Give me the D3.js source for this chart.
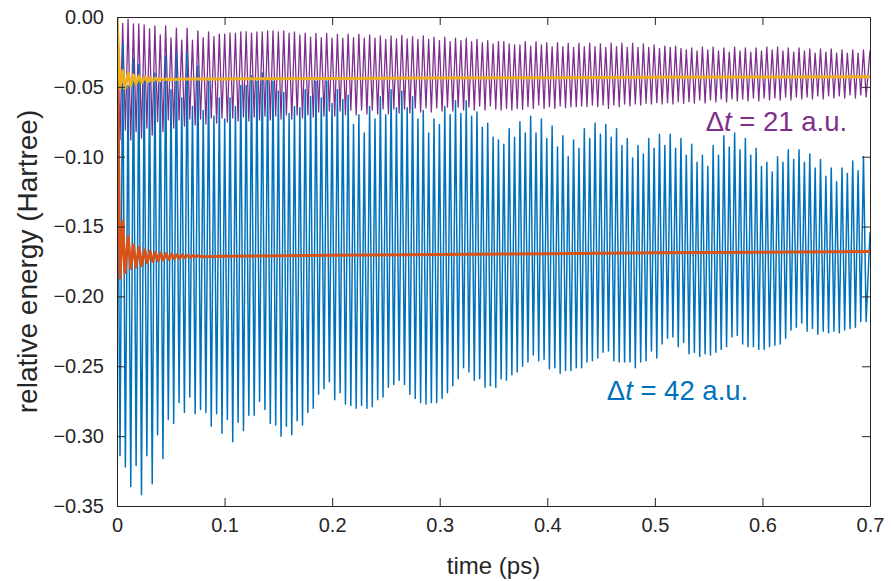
<!DOCTYPE html>
<html>
<head>
<meta charset="utf-8">
<script src="https://cdn.jsdelivr.net/npm/d3@7"></script>
<style>
html,body{margin:0;padding:0;background:#fff;}
svg{display:block;}
text{font-family:"Liberation Sans",Arial,Helvetica,sans-serif;}
</style>
</head>
<body>
<svg id="chart" width="891" height="581"></svg>
<script>
// ---------------- DATA ----------------
const xTicks = [0, 0.1, 0.2, 0.3, 0.4, 0.5, 0.6, 0.7];
const yTicks = [0, -0.05, -0.10, -0.15, -0.20, -0.25, -0.30, -0.35];
const xLabel = "time (ps)";
const yLabel = "relative energy (Hartree)";

// oscillation sampling grid (ps): first minimum and period
const cycleStart = 0.0028;
const cyclePeriod = 0.00499;

// Δt = 42 a.u. (blue) : minima and maxima per cycle
const blueTroughs = [
-0.314,-0.322,-0.336,-0.321,-0.342,-0.314,-0.334,-0.299,-0.316,-0.288,
-0.291,-0.276,-0.283,-0.272,-0.284,-0.281,-0.283,-0.293,-0.284,-0.298,
-0.288,-0.304,-0.290,-0.296,-0.285,-0.285,-0.275,-0.281,-0.291,-0.292,
-0.300,-0.293,-0.299,-0.289,-0.292,-0.283,
-0.280,-0.270,-0.266,-0.261,-0.274,-0.269,-0.277,-0.278,-0.280,-0.278,
-0.280,-0.279,-0.274,-0.272,-0.265,-0.263,-0.260,-0.263,-0.270,-0.273,
-0.276,-0.277,-0.276,-0.276,-0.273,-0.269,-0.264,-0.259,-0.251,-0.254,
-0.260,-0.259,-0.265,-0.264,-0.265,
-0.259,-0.260,-0.256,-0.254,-0.250,-0.247,-0.242,-0.246,-0.245,-0.252,
-0.251,-0.255,-0.253,-0.253,-0.251,-0.251,-0.247,-0.246,-0.244,-0.240,
-0.239,-0.246,-0.247,-0.247,-0.247,-0.251,-0.247,-0.246,-0.239,-0.244,
-0.234,-0.230,-0.229,-0.236,-0.233,-0.241,
-0.240,-0.243,-0.241,-0.242,-0.240,-0.238,-0.236,-0.229,-0.228,-0.234,
-0.236,-0.236,-0.238,-0.238,-0.236,-0.235,-0.234,-0.230,-0.224,-0.222,
-0.219,-0.225,-0.223,-0.227,-0.225,-0.226,-0.225,-0.226,-0.224,-0.223,
-0.222,-0.218,-0.218
];
const blueTops = [
-0.019,-0.049,-0.030,-0.034,-0.042,-0.047,-0.040,-0.047,-0.028,-0.052,
-0.026,-0.058,-0.026,-0.064,-0.035,-0.067,-0.046,-0.071,-0.058,-0.073,
-0.058,-0.064,-0.049,-0.049,-0.042,-0.046,-0.040,-0.045,-0.046,-0.053,
-0.054,-0.069,-0.064,-0.065,-0.052,
-0.057,-0.046,-0.058,-0.046,-0.062,-0.052,-0.059,-0.056,-0.077,-0.070,
-0.083,-0.064,-0.073,-0.057,-0.070,-0.052,-0.065,-0.053,-0.065,-0.057,
-0.073,-0.067,-0.083,-0.073,-0.077,-0.064,-0.070,-0.060,-0.069,-0.060,
-0.071,-0.068,-0.079,-0.076,-0.086,
-0.088,-0.091,-0.080,-0.086,-0.075,-0.083,-0.071,-0.083,-0.073,-0.087,
-0.078,-0.093,-0.085,-0.100,-0.088,-0.094,-0.080,-0.087,-0.076,-0.084,
-0.077,-0.086,-0.080,-0.092,-0.087,-0.101,-0.092,-0.098,-0.087,-0.094,
-0.084,-0.092,-0.084,-0.094,-0.087,-0.099,
-0.091,-0.104,-0.099,-0.107,-0.092,-0.099,-0.085,-0.093,-0.083,-0.095,
-0.087,-0.099,-0.094,-0.107,-0.104,-0.111,-0.100,-0.104,-0.095,-0.102,
-0.095,-0.104,-0.098,-0.108,-0.102,-0.114,-0.108,-0.118,-0.108,-0.112,
-0.103,-0.110,-0.100
];
const blueFinal = [0.7, -0.154];

// Δt = 21 a.u. (purple) : minima and maxima per cycle
const purpleTroughs = [
-0.0880,-0.0809,-0.0880,-0.0821,-0.0866,-0.0795,-0.0845,-0.0749,-0.0821,-0.0737,-0.0795,-0.0737,
-0.0780,-0.0730,-0.0773,-0.0730,-0.0766,-0.0723,-0.0759,-0.0723,-0.0752,-0.0723,-0.0744,-0.0716,
-0.0744,-0.0716,-0.0737,-0.0709,-0.0737,-0.0709,-0.0730,-0.0701,-0.0730,-0.0701,-0.0723,-0.0701,
-0.0716,-0.0680,-0.0709,-0.0673,-0.0709,-0.0673,-0.0701,-0.0666,-0.0701,-0.0666,-0.0694,-0.0666,
-0.0694,-0.0659,-0.0694,-0.0659,-0.0687,-0.0659,-0.0687,-0.0651,-0.0680,-0.0651,-0.0680,-0.0651,
-0.0673,-0.0644,-0.0673,-0.0644,-0.0666,-0.0644,-0.0666,-0.0637,-0.0666,-0.0637,-0.0659,
-0.0666,-0.0654,-0.0666,-0.0654,-0.0661,-0.0642,-0.0654,-0.0630,-0.0654,-0.0642,-0.0654,-0.0637,
-0.0649,-0.0642,-0.0642,-0.0637,-0.0642,-0.0630,-0.0642,-0.0630,-0.0654,-0.0630,-0.0642,-0.0623,
-0.0637,-0.0623,-0.0630,-0.0618,-0.0623,-0.0613,-0.0623,-0.0613,-0.0623,-0.0606,-0.0618,-0.0606,
-0.0616,-0.0594,-0.0616,-0.0594,-0.0608,-0.0587,-0.0608,-0.0587,-0.0601,-0.0587,-0.0601,-0.0580,
-0.0601,-0.0580,-0.0594,-0.0580,-0.0594,-0.0573,-0.0594,-0.0573,-0.0587,-0.0573,-0.0587,-0.0565,
-0.0587,-0.0565,-0.0580,-0.0565,-0.0580,-0.0558,-0.0580,-0.0558,-0.0573
];
const purpleTops = [
-0.0045,-0.0016,-0.0050,-0.0050,-0.0057,-0.0086,-0.0064,-0.0129,-0.0064,-0.0150,
-0.0079,-0.0165,-0.0079,-0.0165,-0.0100,-0.0148,-0.0107,-0.0141,-0.0122,-0.0122,
-0.0115,-0.0115,-0.0107,-0.0105,
-0.0115,-0.0107,-0.0107,-0.0100,-0.0100,-0.0107,-0.0100,-0.0115,-0.0107,-0.0129,-0.0115,
-0.0145,-0.0117,-0.0148,-0.0117,-0.0152,-0.0124,-0.0152,-0.0122,-0.0148,-0.0122,
-0.0152,-0.0129,-0.0152,-0.0136,-0.0160,-0.0136,-0.0157,-0.0131,-0.0157,-0.0141,
-0.0160,-0.0136,-0.0160,-0.0145,-0.0170,-0.0145,-0.0177,-0.0152,-0.0170,-0.0152,
-0.0177,-0.0160,-0.0184,-0.0170,-0.0193,
-0.0177,-0.0177,-0.0193,-0.0200,-0.0200,-0.0177,-0.0208,-0.0177,-0.0200,-0.0184,
-0.0213,-0.0184,-0.0213,-0.0188,-0.0217,-0.0188,-0.0213,-0.0188,-0.0213,-0.0193,
-0.0217,-0.0188,-0.0213,-0.0188,-0.0217,-0.0188,-0.0217,-0.0193,-0.0217,-0.0200,
-0.0224,-0.0208,-0.0217,-0.0208,-0.0224,-0.0236,
-0.0222,-0.0243,-0.0215,-0.0236,-0.0215,-0.0243,-0.0222,-0.0251,-0.0215,-0.0243,
-0.0222,-0.0251,-0.0222,-0.0243,-0.0215,-0.0236,-0.0215,-0.0243,-0.0222,-0.0251,
-0.0222,-0.0243,-0.0229,-0.0258,-0.0229,-0.0251,-0.0229,-0.0258,-0.0236,-0.0258,
-0.0236,-0.0258,-0.0236
];
const purpleFinal = [0.7, -0.0240];

// running averages (orange for Δt = 42, yellow for Δt = 21)
const orangeTime = [0,0.0028,0.0053,0.0074,0.0105,0.0127,0.0152,0.0177,0.0205,0.0230,0.0258,0.0282,
0.0307,0.0332,0.0357,0.0382,0.0407,0.0432,0.0457,0.0482,0.0507,0.0532,0.0557,0.0582,0.0607,0.0632,
0.0657,0.0682,0.0707,0.0732,0.0757,0.0782,0.1,0.2,0.3,0.4,0.5,0.6,0.7];
const orangeValue = [0,-0.187,-0.1465,-0.183,-0.157,-0.180,-0.163,-0.179,-0.165,-0.178,-0.1667,-0.176,
-0.1677,-0.1750,-0.1685,-0.1745,-0.1690,-0.1740,-0.1693,-0.1735,-0.1697,-0.1730,-0.1700,-0.1727,-0.1703,-0.1723,
-0.1705,-0.1720,-0.1706,-0.1718,-0.1707,-0.1716,-0.1712,-0.1706,-0.1700,-0.1694,-0.1688,-0.1683,-0.1678];
const yellowTime = [0,0.0028,0.0053,0.0074,0.0105,0.0127,0.0152,0.0177,0.0205,0.0230,0.0258,0.0282,
0.0307,0.0332,0.0357,0.0382,0.0407,0.0432,0.0457,0.0482,0.0507,0.0532,0.06,0.1,0.2,0.3,0.4,0.5,0.6,0.7];
const yellowValue = [0,-0.051,-0.0384,-0.051,-0.0399,-0.0494,-0.0415,-0.048,-0.0422,-0.047,-0.0427,-0.0463,
-0.0434,-0.0458,-0.0437,-0.0454,-0.0440,-0.0451,-0.0442,-0.0449,-0.0443,-0.0447,-0.0444,-0.0443,-0.0440,
-0.0437,-0.0434,-0.0431,-0.0429,-0.0427];

const annotations = [
  {pre:"\u0394", it:"t", post:" = 21 a.u.", t:0.5472, v:-0.0815, color:"#7E2F8E"},
  {pre:"\u0394", it:"t", post:" = 42 a.u.", t:0.4553, v:-0.2741, color:"#0072BD"}
];

// ---------------- DRAW ----------------
const W = 891, H = 581;
const M = {left:117, right:21, top:17, bottom:75};
const svg = d3.select("#chart");
const x = d3.scaleLinear().domain([0, 0.7]).range([M.left, W - M.right]);
const y = d3.scaleLinear().domain([-0.35, 0]).range([H - M.bottom, M.top]);

svg.append("defs").append("clipPath").attr("id","clip")
  .append("rect").attr("x", M.left).attr("y", M.top)
  .attr("width", W - M.left - M.right).attr("height", H - M.top - M.bottom);

function zigzag(troughs, tops, finalPt) {
  const pts = [[0, 0]];
  troughs.forEach((v, i) => {
    pts.push([cycleStart + i * cyclePeriod, v]);
    if (i < tops.length) pts.push([cycleStart + (i + 0.5) * cyclePeriod, tops[i]]);
  });
  pts.push(finalPt);
  return pts;
}
const line = d3.line().x(d => x(d[0])).y(d => y(d[1]));
const plot = svg.append("g").attr("clip-path", "url(#clip)");

plot.append("path").datum(zigzag(purpleTroughs, purpleTops, purpleFinal))
  .attr("d", line).attr("fill","none").attr("stroke","#7E2F8E").attr("stroke-width",1.3)
  .attr("stroke-linejoin","round");
plot.append("path").datum(zigzag(blueTroughs, blueTops, blueFinal))
  .attr("d", line).attr("fill","none").attr("stroke","#0072BD").attr("stroke-width",1.5)
  .attr("stroke-linejoin","round");
plot.append("path").datum(orangeTime.map((t,i)=>[t, orangeValue[i]]))
  .attr("d", line).attr("fill","none").attr("stroke","#D95319").attr("stroke-width",3)
  .attr("stroke-linejoin","round");
plot.append("path").datum(yellowTime.map((t,i)=>[t, yellowValue[i]]))
  .attr("d", line).attr("fill","none").attr("stroke","#EDB120").attr("stroke-width",3)
  .attr("stroke-linejoin","round");

// axes
const axisColor = "#262626";
const fmtX = d => d === 0 ? "0" : d3.format(".1f")(d);
const fmtY = d3.format(".2f");

const gx = svg.append("g").attr("transform", `translate(0,${H - M.bottom})`)
  .call(d3.axisBottom(x).tickValues(xTicks).tickFormat(fmtX).tickSizeInner(-8).tickSizeOuter(0).tickPadding(12));
const gxt = svg.append("g").attr("transform", `translate(0,${M.top})`)
  .call(d3.axisTop(x).tickValues(xTicks).tickFormat("").tickSizeInner(-8).tickSizeOuter(0));
const gy = svg.append("g").attr("transform", `translate(${M.left},0)`)
  .call(d3.axisLeft(y).tickValues(yTicks).tickFormat(fmtY).tickSizeInner(-8).tickSizeOuter(0).tickPadding(13));
const gyr = svg.append("g").attr("transform", `translate(${W - M.right},0)`)
  .call(d3.axisRight(y).tickValues(yTicks).tickFormat("").tickSizeInner(-8).tickSizeOuter(0));

[gx, gxt, gy, gyr].forEach(g => {
  g.select(".domain").attr("stroke", axisColor).attr("stroke-width", 1);
  g.selectAll(".tick line").attr("stroke", axisColor).attr("stroke-width", 1);
  g.selectAll("text").attr("fill", axisColor).style("font-size","20px")
    .style("font-family", '"Liberation Sans", Arial, sans-serif');
});

svg.append("text").attr("x", (M.left + W - M.right) / 2).attr("y", 574)
  .attr("text-anchor","middle").attr("fill", axisColor).style("font-size","24px").text(xLabel);
svg.append("text").attr("transform", `translate(37,${(M.top + H - M.bottom) / 2}) rotate(-90)`)
  .attr("text-anchor","middle").attr("fill", axisColor).style("font-size","28px").text(yLabel);

annotations.forEach(a => {
  const t = svg.append("text").attr("x", x(a.t)).attr("y", y(a.v)).attr("fill", a.color)
    .style("font-size","27.5px");
  t.append("tspan").text(a.pre);
  t.append("tspan").style("font-style","italic").text(a.it);
  t.append("tspan").text(a.post);
});
</script>
</body>
</html>
